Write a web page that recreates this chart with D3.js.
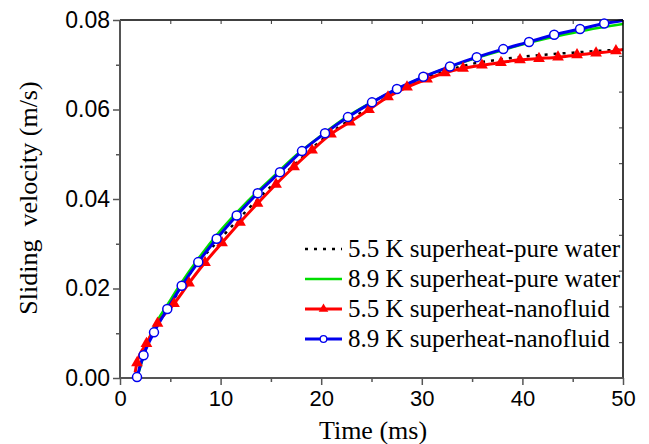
<!DOCTYPE html>
<html><head><meta charset="utf-8">
<script src="https://cdn.jsdelivr.net/npm/d3@7"></script>
<style>body{margin:0;background:#fff} .serif{font-family:'Liberation Serif','Times New Roman',serif} .sans{font-family:'Liberation Sans',Arial,sans-serif}</style>
</head><body>
<svg id="c" width="649" height="444"></svg>
<script>
// ---- data ----
const xTicks = [0, 10, 20, 30, 40, 50];
const yTicks = [0.00, 0.02, 0.04, 0.06, 0.08];
const xTickLabels = ["0", "10", "20", "30", "40", "50"];
const yTickLabels = ["0.00", "0.02", "0.04", "0.06", "0.08"];
const seriesNames = ["5.5 K superheat-pure water", "8.9 K superheat-pure water", "5.5 K superheat-nanofluid", "8.9 K superheat-nanofluid"];

// 5.5 K pure water (dotted black)
const blackT = [1.6, 3, 5, 7.5, 10, 12.5, 15, 17.5, 20, 22.5, 25, 27.5, 30, 32.5, 35, 37.5, 40, 42.5, 45, 47.5, 50];
const blackV = [0.0, 0.0088, 0.0163, 0.0250, 0.0312, 0.0372, 0.0428, 0.0480, 0.0531, 0.0572, 0.0607, 0.0639, 0.0666, 0.0687, 0.0702, 0.0711, 0.0718, 0.0723, 0.0727, 0.0731, 0.0734];
// 8.9 K pure water (green)
const greenT = [1.7, 3, 5, 7.5, 10, 12.5, 15, 17.5, 20, 22.5, 25, 27.5, 30, 32.5, 35, 37.5, 40, 42.5, 45, 47.5, 50];
const greenV = [0.0, 0.0094, 0.0174, 0.0258, 0.0330, 0.0391, 0.0445, 0.0498, 0.0542, 0.0583, 0.0616, 0.0645, 0.0671, 0.0693, 0.0712, 0.0729, 0.0745, 0.0759, 0.0771, 0.0782, 0.0791];
// 5.5 K nanofluid (red, triangles)
const redT = [1.5, 1.69, 2.63, 3.73, 5.37, 6.86, 8.45, 10.14, 11.93, 13.67, 15.51, 17.30, 19.09, 20.97, 22.86, 24.75, 26.64, 28.53, 30.52, 32.31, 34.10, 35.98, 37.87, 39.76, 41.65, 43.54, 45.43, 47.32, 49.30, 50];
const redV = [0.0012, 0.0034, 0.0077, 0.0122, 0.0166, 0.0212, 0.0258, 0.0302, 0.0348, 0.0390, 0.0433, 0.0472, 0.0509, 0.0545, 0.0572, 0.0600, 0.0628, 0.0650, 0.0668, 0.0682, 0.0692, 0.0699, 0.0705, 0.0711, 0.0714, 0.0717, 0.0722, 0.0726, 0.0731, 0.0734];
const redMarked = [false, true, true, true, true, true, true, true, true, true, true, true, true, true, true, true, true, true, true, true, true, true, true, true, true, true, true, true, true, false];
// 8.9 K nanofluid (blue, circles)
const blueT = [1.69, 2.34, 3.38, 4.70, 6.13, 7.78, 9.61, 11.60, 13.69, 15.90, 18.09, 20.38, 22.66, 25.05, 27.53, 30.15, 32.80, 35.46, 38.10, 40.66, 43.16, 45.73, 48.13, 50];
const blueV = [0.0002, 0.0051, 0.0102, 0.0154, 0.0206, 0.0259, 0.0311, 0.0363, 0.0413, 0.0460, 0.0507, 0.0547, 0.0583, 0.0616, 0.0646, 0.0673, 0.0696, 0.0717, 0.0735, 0.0751, 0.0767, 0.0780, 0.0792, 0.0799];
const blueMarked = [true, true, true, true, true, true, true, true, true, true, true, true, true, true, true, true, true, true, true, true, true, true, true, false];

// ---- layout ----
const L = 120, R = 623, T = 20, B = 378;
const svg = d3.select("#c");
const x = d3.scaleLinear().domain([0, 50]).range([L, R]);
const y = d3.scaleLinear().domain([0, 0.08]).range([B, T]);

svg.append("defs").append("clipPath").attr("id", "clip")
  .append("rect").attr("x", L).attr("y", T - 1).attr("width", R - L).attr("height", B - T + 1);

const zip = (a, b) => a.map((t, i) => [t, b[i]]);
const line = d3.line().x(d => x(d[0])).y(d => y(d[1])).curve(d3.curveMonotoneX);
const plot = svg.append("g").attr("clip-path", "url(#clip)");

// frame top/right
svg.append("line").attr("x1", L).attr("x2", R).attr("y1", T).attr("y2", T).attr("stroke", "#000").attr("stroke-width", 1.5);
svg.append("line").attr("x1", R).attr("x2", R).attr("y1", T).attr("y2", B).attr("stroke", "#000").attr("stroke-width", 1.5);

// top ticks (inward)
svg.append("g").attr("transform", `translate(0,${T})`)
  .call(d3.axisTop(x).tickValues(d3.range(0, 51, 5)).tickSize(-4).tickFormat(""))
  .call(g => g.select(".domain").remove())
  .call(g => g.selectAll("line").attr("stroke", "#333").attr("stroke-width", 1));
// right ticks (inward, 10 divisions)
const yR = d3.scaleLinear().domain([0, 10]).range([B, T]);
svg.append("g").attr("transform", `translate(${R},0)`).call(d3.axisRight(yR).tickValues(d3.range(1, 10)).tickSize(-4).tickFormat(""))
  .call(g => g.select(".domain").remove())
  .call(g => g.selectAll("line").attr("stroke", "#333").attr("stroke-width", 1));

// bottom axis
const xAxis = d3.axisBottom(x).tickValues(xTicks).tickSize(7).tickPadding(5).tickFormat((d, i) => xTickLabels[i]);
const gx = svg.append("g").attr("transform", `translate(0,${B})`).call(xAxis);
gx.attr("font-family", null).attr("font-size", null);
gx.select(".domain").attr("stroke", "#555").attr("stroke-width", 2).attr("d", `M${L},0H${R}`);
gx.selectAll(".tick line").attr("stroke", "#555").attr("stroke-width", 1.5);
gx.selectAll("text").attr("class", "sans").attr("font-size", 22).attr("fill", "#000");
svg.append("g").attr("transform", `translate(0,${B})`)
  .call(d3.axisBottom(x).tickValues(d3.range(5, 50, 10)).tickSize(4).tickFormat(""))
  .call(g => g.select(".domain").remove())
  .call(g => g.selectAll("line").attr("stroke", "#555").attr("stroke-width", 1.5));

// left axis
const yAxis = d3.axisLeft(y).tickValues(yTicks).tickSize(7).tickPadding(3).tickFormat((d, i) => yTickLabels[i]);
const gy = svg.append("g").attr("transform", `translate(${L},0)`).call(yAxis);
gy.attr("font-family", null).attr("font-size", null);
gy.select(".domain").attr("stroke", "#555").attr("stroke-width", 2).attr("d", `M0,${B}V${T}`);
gy.selectAll(".tick line").attr("stroke", "#555").attr("stroke-width", 1.5);
gy.selectAll("text").attr("class", "sans").attr("font-size", 23).attr("fill", "#000");
svg.append("g").attr("transform", `translate(${L},0)`)
  .call(d3.axisLeft(y).tickValues([0.01, 0.03, 0.05, 0.07]).tickSize(4).tickFormat(""))
  .call(g => g.select(".domain").remove())
  .call(g => g.selectAll("line").attr("stroke", "#555").attr("stroke-width", 1.5));

// axis titles
svg.append("text").attr("class", "serif").attr("x", 373).attr("y", 439).attr("text-anchor", "middle")
  .attr("font-size", 26).text("Time (ms)");
svg.append("text").attr("class", "serif").attr("transform", `translate(37,${198}) rotate(-90)`).attr("text-anchor", "middle")
  .attr("font-size", 26).style("white-space", "pre").text("Sliding  velocity (m/s)");

// series
plot.append("path").datum(zip(greenT, greenV)).attr("d", line).attr("fill", "none").attr("stroke", "#00dd00").attr("stroke-width", 2.5);
plot.append("path").datum(zip(blackT, blackV)).attr("d", line).attr("fill", "none").attr("stroke", "#000").attr("stroke-width", 2.5).attr("stroke-dasharray", "3,6");
plot.append("path").datum(zip(redT, redV)).attr("d", line).attr("fill", "none").attr("stroke", "#ff0000").attr("stroke-width", 3);
plot.append("path").datum(zip(blueT, blueV)).attr("d", line).attr("fill", "none").attr("stroke", "#0000ee").attr("stroke-width", 3);

const tri = d3.symbol().type(d3.symbolTriangle).size(60);
svg.append("g").selectAll("path").data(zip(redT, redV).filter((d, i) => redMarked[i])).join("path")
  .attr("d", tri).attr("transform", d => `translate(${x(d[0])},${y(d[1])})`).attr("fill", "#ff0000");
svg.append("g").selectAll("circle").data(zip(blueT, blueV).filter((d, i) => blueMarked[i])).join("circle")
  .attr("cx", d => x(d[0])).attr("cy", d => y(d[1])).attr("r", 4.5)
  .attr("fill", "#fff").attr("stroke", "#0000ee").attr("stroke-width", 1.5);

// legend
const styles = [
  {stroke: "#000", w: 2.5, dash: "3,6", m: null},
  {stroke: "#00dd00", w: 2.5, dash: null, m: null},
  {stroke: "#ff0000", w: 3, dash: null, m: "tri"},
  {stroke: "#0000ee", w: 3, dash: null, m: "circ"}
];
const lg = svg.append("g");
seriesNames.forEach((name, i) => {
  const cy = 249 + i * 30;
  const s = styles[i];
  const ln = lg.append("line").attr("x1", 305).attr("x2", 342).attr("y1", cy).attr("y2", cy)
    .attr("stroke", s.stroke).attr("stroke-width", s.w);
  if (s.dash) ln.attr("stroke-dasharray", s.dash);
  if (s.m === "tri") lg.append("path").attr("d", d3.symbol().type(d3.symbolTriangle).size(40))
    .attr("transform", `translate(323.5,${cy})`).attr("fill", "#ff0000");
  if (s.m === "circ") lg.append("circle").attr("cx", 323.5).attr("cy", cy).attr("r", 3.3)
    .attr("fill", "#fff").attr("stroke", "#0000ee").attr("stroke-width", 1.3);
  lg.append("text").attr("class", "serif").attr("x", 348).attr("y", cy + 8)
    .attr("font-size", 25).text(name);
});
</script>
</body></html>
